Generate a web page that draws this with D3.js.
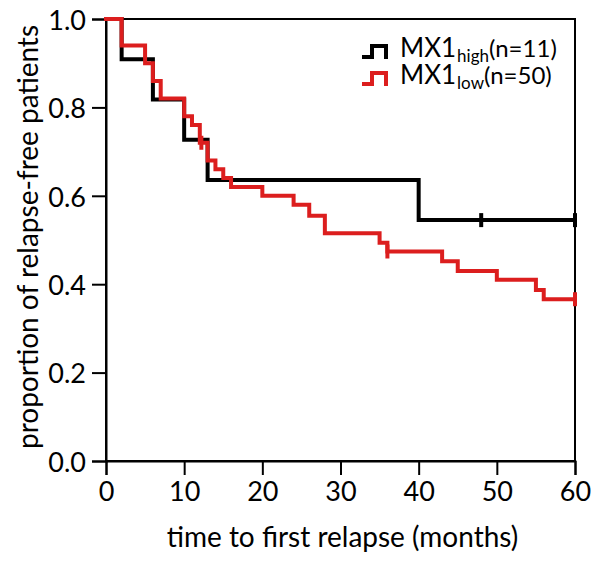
<!DOCTYPE html>
<html>
<head>
<meta charset="utf-8">
<script src="https://cdn.jsdelivr.net/npm/d3@7"></script>
<style>
  html, body { margin: 0; padding: 0; background: #fff; }
  svg { display: block; font-family: Lato, "Open Sans", sans-serif; }
</style>
</head>
<body>
<svg id="chart" width="600" height="564"></svg>
<script>
// ---- data ----
const xTicks = [0, 10, 20, 30, 40, 50, 60];
const yTicks = [0.0, 0.2, 0.4, 0.6, 0.8, 1.0];

const highTimes = [0, 2, 6, 10, 13, 40, 60];
const highSurv  = [1.0, 0.909, 0.818, 0.727, 0.636, 0.545, 0.545];
const highCensor = [48, 60];

const lowTimes = [0, 2, 5, 6, 7, 10, 11, 12, 13, 14, 15, 16, 20, 24, 26, 28, 35, 36, 43, 45, 50, 55, 56, 60];
const lowSurv  = [1.0, 0.94, 0.90, 0.86, 0.82, 0.78, 0.76, 0.72, 0.68, 0.66, 0.64, 0.62, 0.60, 0.58, 0.555, 0.515, 0.494, 0.474, 0.452, 0.43, 0.41, 0.387, 0.366, 0.366];
const lowCensor = [12.2, 36, 60];

const seriesNames = ["MX1", "MX1"];
const seriesSubs = ["high", "low"];
const seriesN = ["(n=11)", "(n=50)"];
const colors = ["#000000", "#dc1e1e"];

// ---- layout ----
const svg = d3.select("#chart");
const m = { left: 106, right: 575, top: 19, bottom: 461 };
const x = d3.scaleLinear().domain([0, 60]).range([m.left, m.right]);
const y = d3.scaleLinear().domain([0, 1]).range([m.bottom, m.top]);

// frame
svg.append("rect")
  .attr("x", m.left).attr("y", m.top)
  .attr("width", m.right - m.left).attr("height", m.bottom - m.top)
  .attr("fill", "none").attr("stroke", "#000").attr("stroke-width", 2);

// axes
const xAxis = svg.append("g").attr("transform", `translate(0,${m.bottom})`)
  .call(d3.axisBottom(x).tickValues(xTicks).tickSize(14).tickPadding(7).tickFormat(d3.format("d")));
const yAxis = svg.append("g").attr("transform", `translate(${m.left},0)`)
  .call(d3.axisLeft(y).tickValues(yTicks).tickSize(14).tickPadding(6).tickFormat(d3.format(".1f")));
[xAxis, yAxis].forEach(g => {
  g.select(".domain").attr("stroke", "#000").attr("stroke-width", 2);
  g.selectAll(".tick line").attr("stroke", "#000").attr("stroke-width", 2);
  g.selectAll(".tick text").attr("fill", "#000").style("font-size", "27px").style("font-family", "Lato, sans-serif");
});
yAxis.selectAll(".tick text").attr("dy", "0.38em");

// titles
svg.append("text")
  .attr("x", (m.left + m.right) / 2 + 2).attr("y", 547)
  .attr("text-anchor", "middle").style("font-size", "28px").attr("fill", "#000")
  .text("time to first relapse (months)");
svg.append("text")
  .attr("transform", `translate(38,${(m.top + m.bottom) / 2 - 3}) rotate(-90)`)
  .attr("text-anchor", "middle").style("font-size", "28px").attr("fill", "#000")
  .text("proportion of relapse-free patients");

// curves
const step = d3.line().x(d => x(d[0])).y(d => y(d[1])).curve(d3.curveStepAfter);
function survAt(times, surv, t) {
  let v = surv[0];
  for (let i = 0; i < times.length; i++) if (times[i] <= t) v = surv[i];
  return v;
}
const series = [
  { times: highTimes, surv: highSurv, cens: highCensor, color: colors[0] },
  { times: lowTimes, surv: lowSurv, cens: lowCensor, color: colors[1] }
];
series.forEach(s => {
  const pts = s.times.map((t, i) => [t, s.surv[i]]);
  svg.append("path").attr("d", step(pts))
    .attr("fill", "none").attr("stroke", s.color).attr("stroke-width", 4)
    .attr("stroke-linejoin", "miter").attr("stroke-linecap", "square");
  svg.selectAll(null).data(s.cens).enter().append("line")
    .attr("x1", d => x(d)).attr("x2", d => x(d))
    .attr("y1", d => y(survAt(s.times, s.surv, d)) - 7)
    .attr("y2", d => y(survAt(s.times, s.surv, d)) + 7)
    .attr("stroke", s.color).attr("stroke-width", 4);
});

// legend
const leg = svg.append("g");
[0, 1].forEach(i => {
  const by = 57 + i * 27;
  const ix = 362;
  leg.append("path")
    .attr("d", `M${ix},${by} H${ix + 10} V${by - 11} H${ix + 24} V${by + 2}`)
    .attr("fill", "none").attr("stroke", colors[i]).attr("stroke-width", 4);
  const t = leg.append("text").attr("x", 400).attr("y", by).attr("fill", "#000");
  t.append("tspan").style("font-size", "26px").text(seriesNames[i]);
  t.append("tspan").attr("dx", 1).attr("dy", 5).style("font-size", "17px").text(seriesSubs[i]);
  t.append("tspan").attr("dy", -5).style("font-size", "24px").text(seriesN[i]);
});
</script>
</body>
</html>
